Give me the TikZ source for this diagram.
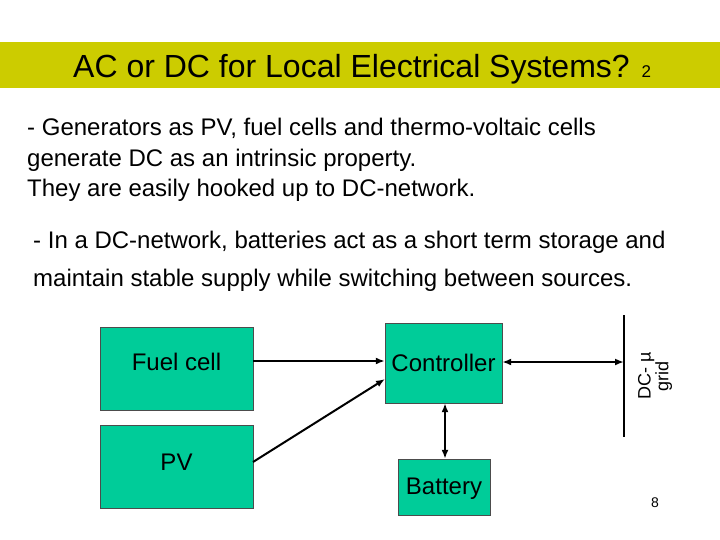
\documentclass[tikz,border=0pt]{standalone}
\usepackage{fontspec}
\setmainfont{Liberation Sans}
\usetikzlibrary{arrows.meta}
\begin{document}
\begin{tikzpicture}[x=1pt,y=-1pt,
  box/.style={draw=black!70,fill={rgb,255:red,0;green,204;blue,153},minimum width=#1,inner sep=0pt,font=\fontsize{24}{28}\selectfont},
  arr/.style={-{Latex[length=9pt,width=7pt]},line width=2pt},
  darr/.style={{Latex[length=9pt,width=7pt]}-{Latex[length=9pt,width=7pt]},line width=2pt}]
\useasboundingbox (0,0) rectangle (720,540);
\fill[fill={rgb,255:red,204;green,204;blue,0}] (0,42) rectangle (720,88);
\node[font=\fontsize{32}{36}\selectfont,anchor=base west,inner sep=0pt] (title) at (73,78) {AC or DC for Local Electrical Systems? {\fontsize{17}{18}\selectfont 2}};
\node[font=\fontsize{24}{30.5}\selectfont,anchor=north west,align=left,inner sep=0pt] (t1) at (27,118) {- Generators as PV, fuel cells and thermo-voltaic cells\\generate DC as an intrinsic property.\\They are easily hooked up to DC-network.};
\node[font=\fontsize{24}{38}\selectfont,anchor=north west,align=left,inner sep=0pt] (t2) at (33,231) {- In a DC-network, batteries act as a short term storage and\\maintain stable supply while switching between sources.};
\node[box,minimum width=153pt,minimum height=83pt] (fc) at (176.5,368.5) {};
\node[font=\fontsize{24}{28}\selectfont] at (176.5,362) {Fuel cell};
\node[box,minimum width=153pt,minimum height=83pt] (pv) at (176.5,466.5) {};
\node[font=\fontsize{24}{28}\selectfont] at (176.5,462) {PV};
\node[box,minimum width=117pt,minimum height=80pt] (ct) at (443.5,363) {Controller};
\node[box,minimum width=92pt,minimum height=56pt] (bt) at (444,487) {};
\node[font=\fontsize{24}{28}\selectfont] at (444,489) {Battery};
\coordinate (gt) at (624,315);
\coordinate (gb) at (624,437);
\draw[line width=2pt] (gt) -- (gb);
\coordinate (g) at (624,362);
\node[rotate=90,font=\fontsize{18}{16}\selectfont,align=center,inner sep=0pt] (gl) at (655,376) {DC- µ\\grid};
\draw[arr] (fc.east |- 0,361) -- (ct.west |- 0,361);
\draw[arr] (253,462) -- (385,379);
\draw[darr] (ct.east |- 0,362) -- (g);
\draw[darr] (ct.south -| 445,0) -- (bt.north -| 445,0);
\node[font=\fontsize{14}{14}\selectfont] (pg) at (655,503) {8};
\end{tikzpicture}
\end{document}
